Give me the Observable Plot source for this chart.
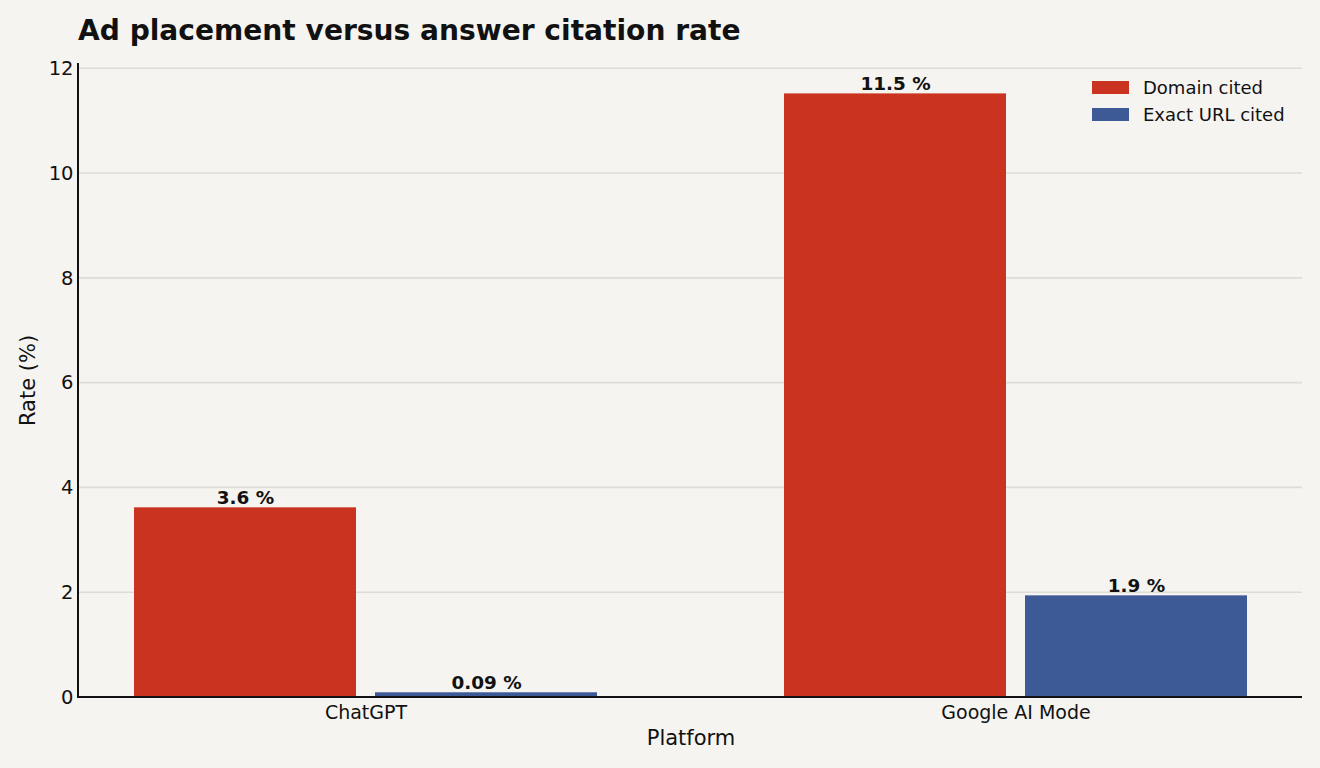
<!DOCTYPE html>
<html>
<head>
<meta charset="utf-8">
<script src="https://cdn.jsdelivr.net/npm/d3@7"></script>
<script src="https://cdn.jsdelivr.net/npm/@observablehq/plot@0.6"></script>
<style>
  html, body { margin: 0; padding: 0; background: #f5f4f0; }
  #wrap { position: relative; width: 1320px; height: 768px; background: #f5f4f0; font-family: "DejaVu Sans", sans-serif; color: #111; }
  #title { height: 50px; padding-left: 78px; font-size: 28.1px; font-weight: bold; line-height: 61px; box-sizing: border-box; white-space: nowrap; }
  #legend { position: absolute; left: 1092px; top: 74px; font-size: 18px; }
  .row { display: flex; align-items: center; height: 27px; }
  .sw { width: 37px; height: 13px; margin-right: 14px; }
  svg { display: block; }
</style>
</head>
<body>
<div id="wrap">
  <div id="title">Ad placement versus answer citation rate</div>
  <div id="chart"></div>
  <div id="legend"></div>
</div>
<script>
const platforms = ["ChatGPT", "Google AI Mode"];
const series = ["Domain cited", "Exact URL cited"];
const colors = ["#c93320", "#3d5a96"];
const domainCited = [3.62, 11.52];
const exactUrlCited = [0.09, 1.94];
const yTicks = [0, 2, 4, 6, 8, 10, 12];

const fmt = v => (v < 1 ? v.toFixed(2) : v.toFixed(1)) + " %";
const rows = [];
platforms.forEach((p, i) => {
  rows.push({platform: p, series: series[0], value: domainCited[i]});
  rows.push({platform: p, series: series[1], value: exactUrlCited[i]});
});

const W = 1320, H = 718, ML = 78, MR = 18, MT = 13, MB = 71;

const plot = Plot.plot({
  width: W,
  height: H,
  marginTop: MT,
  marginBottom: MB,
  marginLeft: ML,
  marginRight: MR,
  style: {background: "#f5f4f0", fontFamily: "DejaVu Sans, sans-serif", fontSize: "19px", color: "#111"},
  fx: {domain: platforms, paddingInner: 0.119, paddingOuter: 0},
  x: {domain: series, paddingInner: 0.0788, paddingOuter: 0.228, axis: null},
  y: {domain: [0, 12.1]},
  color: {domain: series, range: colors},
  marks: [
    Plot.barY(rows, {fx: "platform", x: "series", y: "value", fill: "series"}),
    Plot.text(rows, {fx: "platform", x: "series", y: "value", text: d => fmt(d.value), dy: -10, fontWeight: "bold", fontSize: 18.4, fill: "#111"}),
    Plot.axisY(yTicks, {tickSize: 0, tickPadding: 6, tickFormat: d => String(d), label: null, fontSize: 19.5}),
    Plot.axisY([], {tickSize: 0, label: "Rate (%)", labelAnchor: "center", labelArrow: "none", labelOffset: 59, fontSize: 21}),
    Plot.axisFx({anchor: "bottom", tickSize: 0, tickPadding: 8, label: null, fontSize: 19}),
    Plot.axisFx([], {anchor: "bottom", tickSize: 0, label: "Platform", labelAnchor: "center", labelArrow: "none", labelOffset: 47, fontSize: 21})
  ]
});

// gridlines and spines spanning the whole frame, positioned via the plot's own y scale
const y = plot.scale("y");
const svg = d3.select(plot);
const grid = svg.insert("g", "g").attr("stroke", "#dedcd4").attr("stroke-width", 1.6);
grid.selectAll("line").data(yTicks).join("line")
  .attr("x1", ML).attr("x2", W - MR)
  .attr("y1", d => y.apply(d)).attr("y2", d => y.apply(d));
const spines = svg.append("g").attr("stroke", "#111").attr("stroke-width", 2).attr("fill", "none");
spines.append("line").attr("x1", ML).attr("x2", ML).attr("y1", y.apply(y.domain[1])).attr("y2", y.apply(0));
spines.append("line").attr("x1", ML - 1).attr("x2", W - MR).attr("y1", y.apply(0)).attr("y2", y.apply(0));

document.getElementById("chart").appendChild(plot);

const legend = document.getElementById("legend");
series.forEach((s, i) => {
  const r = document.createElement("div");
  r.className = "row";
  r.innerHTML = `<div class="sw" style="background:${colors[i]}"></div><span>${s}</span>`;
  legend.appendChild(r);
});
</script>
</body>
</html>
